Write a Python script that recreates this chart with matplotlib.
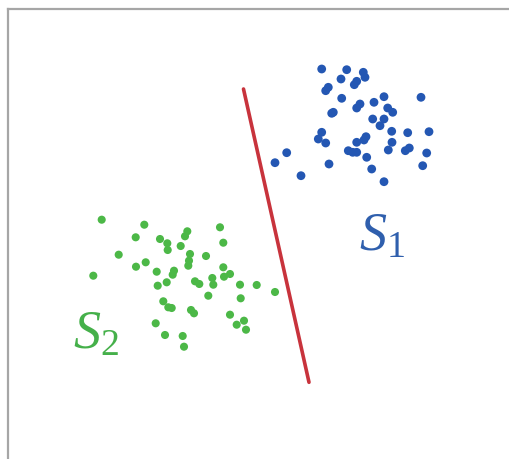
import matplotlib
matplotlib.use("Agg")
import matplotlib.pyplot as plt

plt.rcParams['mathtext.fontset'] = 'custom'
plt.rcParams['mathtext.rm'] = 'Liberation Serif'
plt.rcParams['mathtext.it'] = 'Liberation Serif:italic'

# class S1 (upper right)
s1_x = [321.7, 346.7, 363.3, 365.0, 341.0, 356.7, 354.3, 328.3, 325.7, 341.7,
        384.0, 421.0, 360.0, 356.7, 374.0, 387.7, 392.7, 333.3, 331.7, 372.7,
        384.0, 380.0, 321.7, 318.3, 325.7, 366.0, 364.0, 356.7, 391.7, 407.7,
        429.0, 392.0, 348.3, 356.7, 352.7, 388.3, 405.3, 409.3, 426.7, 286.7,
        275.0, 329.0, 366.7, 422.7, 371.7, 301.0, 384.0]
s1_y = [70.0, 70.7, 73.3, 78.3, 80.0, 82.3, 85.7, 88.3, 91.7, 99.3,
        97.7, 98.3, 105.0, 109.0, 103.3, 109.0, 113.3, 113.3, 114.3, 120.0,
        120.0, 126.7, 133.3, 140.0, 144.0, 137.7, 141.0, 143.3, 132.3, 133.7,
        132.7, 143.3, 151.7, 153.3, 153.3, 151.0, 151.7, 149.0, 154.0, 153.7,
        163.7, 165.0, 158.3, 166.7, 170.0, 176.7, 182.7]

# class S2 (lower left)
s2_x = [101.7, 144.3, 135.7, 160.0, 167.3, 167.7, 187.3, 185.0, 180.7, 220.0,
        223.3, 118.7, 190.0, 206.0, 189.0, 188.3, 136.0, 145.7, 93.3, 156.7,
        174.0, 172.7, 166.7, 157.7, 223.3, 230.0, 224.0, 195.0, 199.3, 212.3,
        213.3, 240.0, 256.7, 275.0, 208.3, 240.7, 163.3, 168.3, 171.7, 191.0,
        194.0, 230.0, 244.0, 236.7, 246.0, 155.7, 165.0, 182.7, 184.0]
s2_y = [220.7, 225.7, 238.3, 240.0, 244.3, 251.0, 232.3, 237.3, 247.0, 228.3,
        243.7, 255.7, 255.0, 257.0, 261.7, 266.7, 267.7, 263.3, 276.7, 272.7,
        271.7, 275.7, 283.3, 286.7, 268.3, 275.0, 277.7, 282.3, 285.0, 279.0,
        285.7, 285.7, 286.0, 293.0, 296.7, 299.3, 302.3, 308.3, 309.0, 311.0,
        314.3, 315.7, 321.7, 325.7, 330.7, 324.3, 336.0, 337.0, 347.7]

# separating line
sep_x = [243.5, 309.0]
sep_y = [90.0, 383.3]

fig = plt.figure(figsize=(5.1, 4.6), dpi=100)
ax = fig.add_axes([8 / 510, 0, 502 / 510, 450 / 460])
ax.set_xlim(8, 510)
ax.set_ylim(460, 10)

ax.plot(sep_x, sep_y, color="#c8333c", lw=2.6, solid_capstyle="round", zorder=1)
ax.scatter(s1_x, s1_y, s=40, color="#2457b3", edgecolors="none", zorder=2)
ax.scatter(s2_x, s2_y, s=34, color="#4cb847", edgecolors="none", zorder=2)

ax.text(359, 250, r"$S_1$", color="#2f5fad", fontsize=39, ha="left", va="baseline")
ax.text(73, 348, r"$S_2$", color="#45b04a", fontsize=39, ha="left", va="baseline")

ax.set_xticks([])
ax.set_yticks([])
for side in ["right", "bottom"]:
    ax.spines[side].set_visible(False)
for side in ["left", "top"]:
    ax.spines[side].set_color("#a6a6a6")
    ax.spines[side].set_linewidth(1.6)

fig.savefig("out.png", dpi=100)
